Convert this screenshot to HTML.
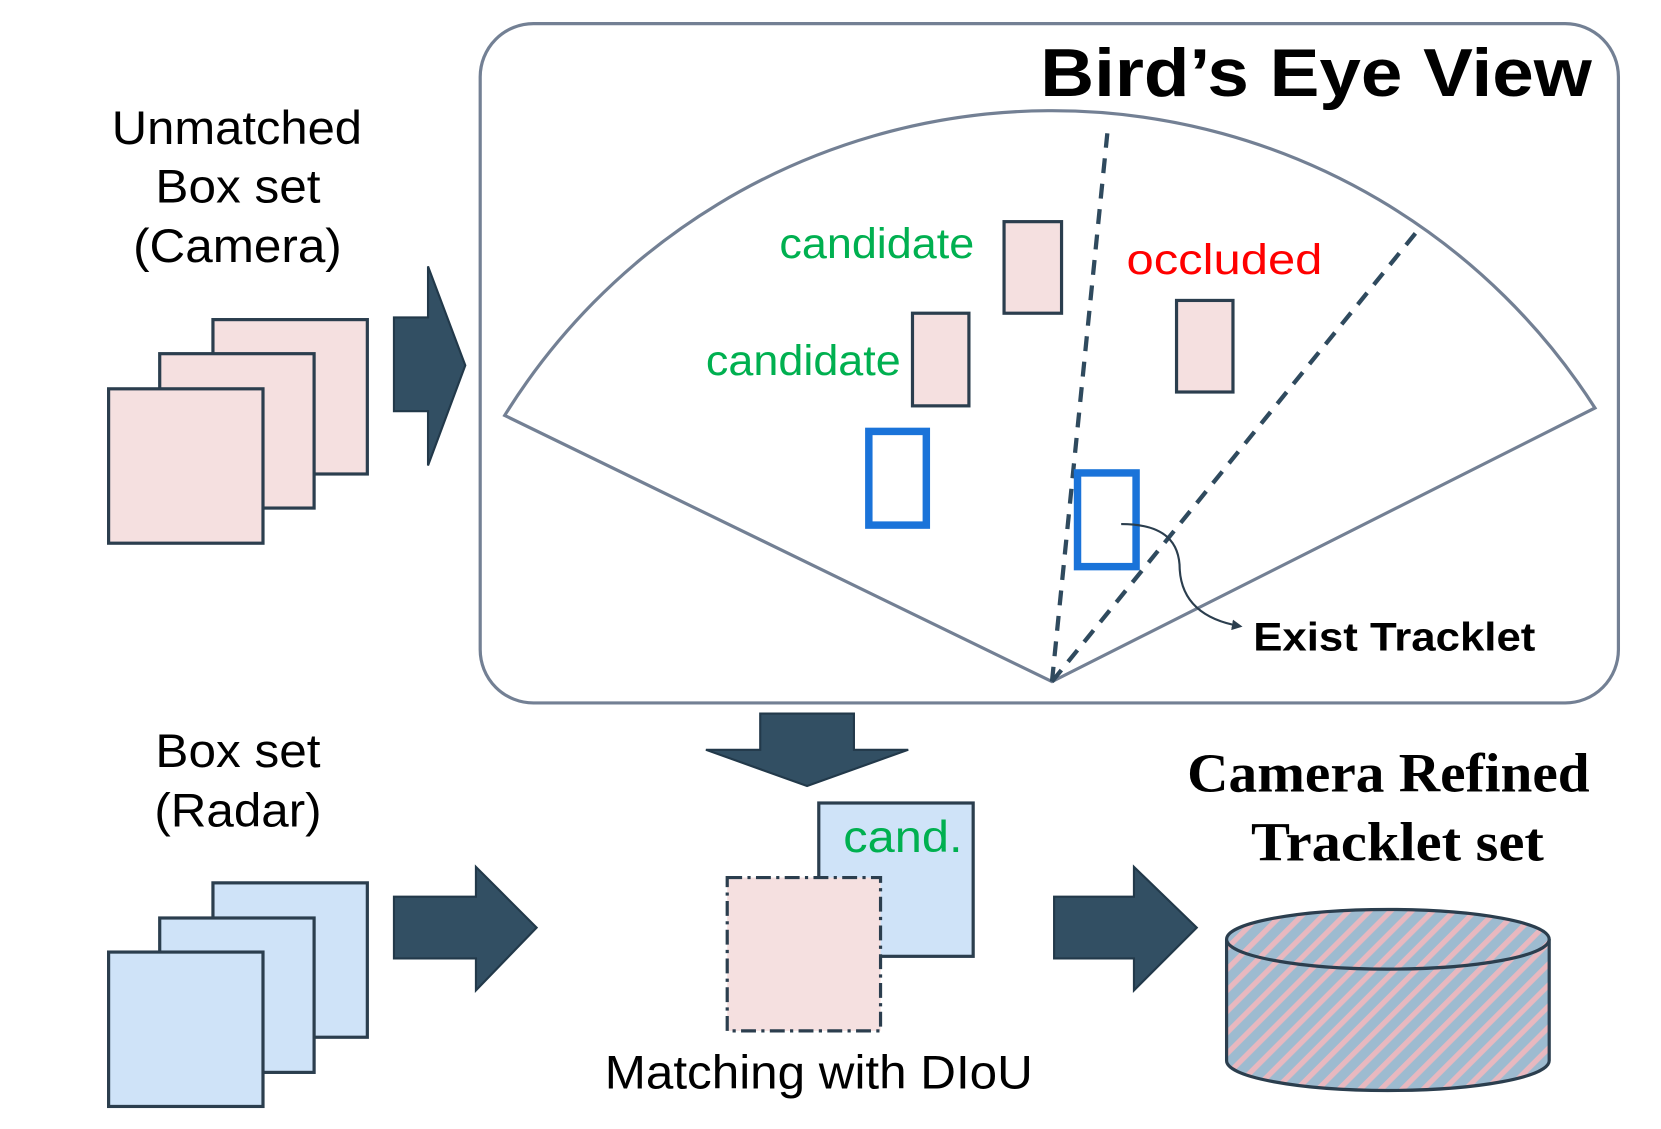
<!DOCTYPE html>
<html><head><meta charset="utf-8"><style>html,body{margin:0;padding:0;background:#fff}svg{display:block}</style></head>
<body>
<svg width="1661" height="1129" viewBox="0 0 1560 1060" xmlns="http://www.w3.org/2000/svg">
<defs>
<pattern id="st" patternUnits="userSpaceOnUse" width="14" height="14" patternTransform="rotate(45)">
<rect width="14" height="14" fill="#9dbbd0"/><rect width="5" height="14" fill="#e8b8bf"/>
</pattern>
<marker id="ah" markerWidth="10" markerHeight="10" refX="8" refY="5" orient="auto" markerUnits="userSpaceOnUse"><path d="M0,0 L10,5 L0,10 Z" fill="#2b3e4e"/></marker>
</defs>
<g font-family="Liberation Sans, sans-serif">
<rect x="451" y="22" width="1069" height="638" rx="50" fill="none" stroke="#738094" stroke-width="3"/>
<text x="977" y="90" font-size="64" font-weight="bold" textLength="518" lengthAdjust="spacingAndGlyphs">Bird’s Eye View</text>
<path d="M988 640 L474 390 A605 605 0 0 1 1498 383 Z" fill="none" stroke="#738094" stroke-width="3"/>
<line x1="988" y1="640" x2="1040" y2="125" stroke="#2f4a5e" stroke-width="4" stroke-dasharray="14 10"/>
<line x1="988" y1="640" x2="1335" y2="212" stroke="#2f4a5e" stroke-width="4" stroke-dasharray="14 10"/>
<g fill="#f5e0e0" stroke="#2b3e4e" stroke-width="3">
<rect x="943" y="208" width="54" height="86"/>
<rect x="857" y="294" width="53" height="87"/>
<rect x="1105" y="282" width="53" height="86"/>
</g>
<g fill="none" stroke="#1a73d9" stroke-width="7">
<rect x="816" y="405" width="54" height="88"/>
<rect x="1012" y="444" width="55" height="88"/>
</g>
<text x="732" y="242" font-size="40" fill="#00b050" textLength="183" lengthAdjust="spacingAndGlyphs">candidate</text>
<text x="663" y="352" font-size="40" fill="#00b050" textLength="183" lengthAdjust="spacingAndGlyphs">candidate</text>
<text x="1058" y="257" font-size="40" fill="#f00" textLength="184" lengthAdjust="spacingAndGlyphs">occluded</text>
<path d="M1053 492 C1095 492,1108 510,1108 535 C1110 565,1130 582,1165 588" fill="none" stroke="#2b3e4e" stroke-width="2" marker-end="url(#ah)"/>
<text x="1177" y="611" font-size="37" font-weight="bold" textLength="265" lengthAdjust="spacingAndGlyphs">Exist Tracklet</text>

<g font-size="44">
<text x="105" y="135" textLength="235" lengthAdjust="spacingAndGlyphs">Unmatched</text>
<text x="146" y="190" textLength="155" lengthAdjust="spacingAndGlyphs">Box set</text>
<text x="125" y="246" textLength="196" lengthAdjust="spacingAndGlyphs">(Camera)</text>
<text x="146" y="720" textLength="155" lengthAdjust="spacingAndGlyphs">Box set</text>
<text x="145" y="776" textLength="157" lengthAdjust="spacingAndGlyphs">(Radar)</text>
</g>
<g fill="#f5e0e0" stroke="#2b3e4e" stroke-width="3">
<rect x="200" y="300" width="145" height="145"/>
<rect x="150" y="332" width="145" height="145"/>
<rect x="102" y="365" width="145" height="145"/>
</g>
<g fill="#cfe3f8" stroke="#2b3e4e" stroke-width="3">
<rect x="200" y="829" width="145" height="145"/>
<rect x="150" y="862" width="145" height="145"/>
<rect x="102" y="894" width="145" height="145"/>
</g>
<g fill="#324f63" stroke="#22394a" stroke-width="2">
<path d="M370 298 H402 V250 L437 343 L402 437 V386 H370 Z"/>
<path d="M370 842 H447 V814 L504 871 L447 930 V900 H370 Z"/>
<path d="M714 670 H802 V704 H853 L758 738 L663 704 H714 Z"/>
<path d="M990 842 H1065 V814 L1124 871 L1065 930 V900 H990 Z"/>
</g>
<rect x="769" y="754" width="145" height="144" fill="#cfe3f8" stroke="#2b3e4e" stroke-width="3"/>
<text x="792" y="800" font-size="42" fill="#00b050" textLength="112" lengthAdjust="spacingAndGlyphs">cand.</text>
<rect x="683" y="824" width="144" height="144" fill="#f5e0e0" stroke="#2b3e4e" stroke-width="3" stroke-dasharray="14 5 3 5"/>
<text x="568" y="1022" font-size="44" textLength="402" lengthAdjust="spacingAndGlyphs">Matching with DIoU</text>
<g font-family="Liberation Serif, serif" font-weight="bold" font-size="52">
<text x="1115" y="743" textLength="378" lengthAdjust="spacingAndGlyphs">Camera Refined</text>
<text x="1175" y="808" textLength="275" lengthAdjust="spacingAndGlyphs">Tracklet set</text>
</g>
<path d="M1152 882 V996 A151.5 28 0 0 0 1455 996 V882" fill="url(#st)" stroke="#2b3e4e" stroke-width="3"/>
<ellipse cx="1303.5" cy="882" rx="151.5" ry="28" fill="url(#st)" stroke="#2b3e4e" stroke-width="3"/>
</g>
</svg>
</body></html>
